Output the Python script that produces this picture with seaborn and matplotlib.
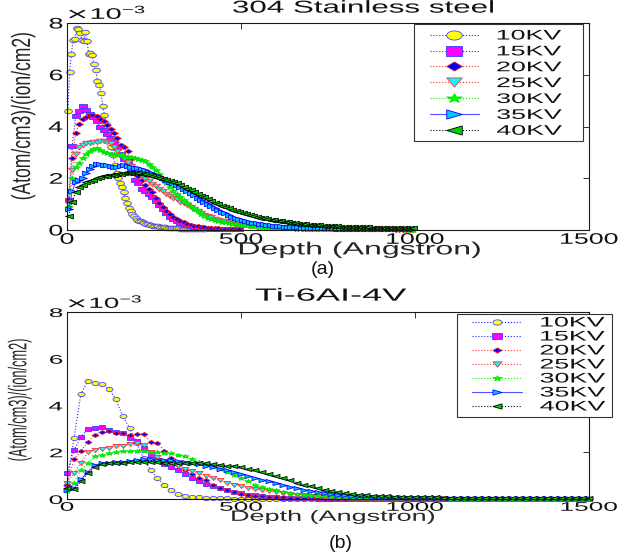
import numpy as np
import matplotlib
matplotlib.use("Agg")
import matplotlib.pyplot as plt
import seaborn as sns
from matplotlib.markers import MarkerStyle
from matplotlib.path import Path
from matplotlib.patches import Rectangle
from matplotlib.patheffects import AbstractPathEffect
from matplotlib.transforms import Affine2D
from matplotlib.ticker import ScalarFormatter

# ---------------------------------------------------------------------------
# Implanted-ion depth profiles, concentration in units of 1e-3 (Atom/cm3)/(ion/cm2)
# ---------------------------------------------------------------------------
ENERGY_LABELS = ["10KV", "15KV", "20KV", "25KV", "30KV", "35KV", "40KV"]
CONC_UNIT = 1e-3

X_TICKS = [0, 500, 1000, 1500]
Y_TICKS = [0, 2, 4, 6, 8]

# depth bins (Angstrom) of the profile files
ss_depth_10 = np.arange(2.5, 400, 5.0)     # 80 bins
ss_depth_15_20 = np.arange(5, 500, 10.0)   # 50 bins
ss_depth_25_40 = np.arange(5, 1000, 10.0)  # 100 bins
ti_depth = np.arange(0, 1501, 20.0)        # 76 bins

# 304 stainless steel
ss_10kv = [4.6, 6.1, 6.8, 7.35, 7.4, 7.8, 7.75, 7.6, 7.35, 7.3,
           7.65, 7.3, 6.8, 6.85, 6.75, 6.4, 6.2, 5.75, 5.6, 5.3,
           4.8, 4.45, 4.1, 3.8, 3.55, 3.2, 2.9, 2.5, 2.2, 2.0,
           1.8, 1.65, 1.45, 1.25, 1.05, 0.85, 0.72, 0.63, 0.56, 0.48,
           0.4, 0.36, 0.33, 0.3, 0.27, 0.25, 0.23, 0.21, 0.19, 0.17,
           0.16, 0.15, 0.14, 0.13, 0.12, 0.11, 0.1, 0.09, 0.09, 0.08,
           0.08, 0.07, 0.07, 0.06, 0.06, 0.05, 0.05, 0.05, 0.04, 0.04,
           0.04, 0.04, 0.03, 0.03, 0.03, 0.03, 0.02, 0.02, 0.02, 0.02]
ss_15kv = [1.16, 3.25, 4.4, 4.6, 4.8, 4.65, 4.5, 4.35, 4.2, 4.0,
           3.85, 3.7, 3.55, 3.35, 3.15, 2.95, 2.75, 2.55, 2.25, 1.95,
           1.8, 1.6, 1.5, 1.38, 1.27, 1.12, 0.95, 0.8, 0.65, 0.52,
           0.42, 0.33, 0.27, 0.22, 0.18, 0.14, 0.12, 0.1, 0.08, 0.07,
           0.06, 0.05, 0.05, 0.04, 0.04, 0.03, 0.03, 0.03, 0.02, 0.02]
ss_20kv = [1.2, 2.8, 3.75, 4.1, 4.3, 4.35, 4.45, 4.45, 4.4, 4.3,
           4.22, 4.05, 3.92, 3.75, 3.55, 3.3, 3.2, 3.05, 2.75, 2.4,
           2.1, 1.92, 1.72, 1.58, 1.45, 1.25, 1.05, 0.88, 0.72, 0.6,
           0.5, 0.42, 0.35, 0.29, 0.24, 0.2, 0.16, 0.14, 0.12, 0.1,
           0.09, 0.08, 0.07, 0.06, 0.05, 0.04, 0.04, 0.03, 0.03, 0.03]
ss_25kv = [1.0, 2.3, 2.95, 3.2, 3.28, 3.35, 3.38, 3.4, 3.42, 3.45,
           3.45, 3.42, 3.35, 3.2, 3.05, 2.9, 2.78, 2.62, 2.48, 2.35,
           2.22, 2.1, 1.98, 1.88, 1.78, 1.7, 1.6, 1.5, 1.4, 1.32,
           1.25, 1.18, 1.1, 1.03, 0.95, 0.87, 0.8, 0.72, 0.65, 0.59,
           0.54, 0.49, 0.44, 0.4, 0.36, 0.33, 0.3, 0.27, 0.24, 0.22,
           0.2, 0.18, 0.16, 0.15, 0.13, 0.12, 0.11, 0.1, 0.09, 0.08,
           0.08, 0.07, 0.07, 0.06, 0.06, 0.05, 0.05, 0.05, 0.04, 0.04,
           0.04, 0.04, 0.03, 0.03, 0.03, 0.03, 0.03, 0.03, 0.02, 0.02,
           0.02, 0.02, 0.02, 0.02, 0.02, 0.02, 0.02, 0.02, 0.02, 0.02,
           0.02, 0.02, 0.02, 0.02, 0.01, 0.01, 0.01, 0.01, 0.01, 0.01]
ss_30kv = [0.9, 2.0, 2.45, 2.6, 2.8, 2.95, 3.05, 3.12, 3.15, 3.1,
           3.02, 2.98, 2.95, 2.92, 2.9, 2.88, 2.85, 2.83, 2.82, 2.8,
           2.76, 2.72, 2.66, 2.56, 2.45, 2.3, 2.15, 1.98, 1.82, 1.66,
           1.5, 1.38, 1.26, 1.15, 1.04, 0.93, 0.82, 0.72, 0.63, 0.55,
           0.48, 0.43, 0.39, 0.35, 0.32, 0.29, 0.27, 0.25, 0.23, 0.21,
           0.19, 0.18, 0.16, 0.15, 0.14, 0.13, 0.12, 0.11, 0.1, 0.09,
           0.09, 0.08, 0.08, 0.07, 0.07, 0.06, 0.06, 0.06, 0.05, 0.05,
           0.05, 0.05, 0.04, 0.04, 0.04, 0.04, 0.04, 0.03, 0.03, 0.03,
           0.03, 0.03, 0.03, 0.03, 0.03, 0.03, 0.02, 0.02, 0.02, 0.02,
           0.02, 0.02, 0.02, 0.02, 0.02, 0.02, 0.02, 0.01, 0.01, 0.01]
ss_35kv = [0.8, 1.5, 1.85, 1.95, 2.0, 2.2, 2.35, 2.48, 2.55, 2.56,
           2.52, 2.5, 2.47, 2.45, 2.45, 2.47, 2.5, 2.48, 2.45, 2.4,
           2.38, 2.34, 2.3, 2.25, 2.2, 2.14, 2.07, 2.0, 1.93, 1.86,
           1.8, 1.74, 1.67, 1.58, 1.5, 1.42, 1.34, 1.25, 1.17, 1.09,
           1.02, 0.94, 0.86, 0.78, 0.71, 0.64, 0.57, 0.51, 0.46, 0.42,
           0.38, 0.34, 0.31, 0.28, 0.26, 0.24, 0.22, 0.2, 0.19, 0.17,
           0.15, 0.14, 0.13, 0.12, 0.11, 0.1, 0.1, 0.09, 0.09, 0.08,
           0.08, 0.07, 0.07, 0.07, 0.06, 0.06, 0.06, 0.05, 0.05, 0.05,
           0.05, 0.04, 0.04, 0.04, 0.04, 0.04, 0.03, 0.03, 0.03, 0.03,
           0.03, 0.03, 0.03, 0.03, 0.02, 0.02, 0.02, 0.02, 0.02, 0.02]
ss_40kv = [0.55, 1.1, 1.45, 1.65, 1.75, 1.85, 1.9, 1.95, 2.0, 2.05,
           2.08, 2.1, 2.12, 2.14, 2.16, 2.18, 2.2, 2.21, 2.22, 2.22,
           2.2, 2.18, 2.15, 2.12, 2.09, 2.05, 2.01, 1.97, 1.93, 1.89,
           1.85, 1.8, 1.74, 1.67, 1.6, 1.53, 1.46, 1.39, 1.32, 1.26,
           1.2, 1.13, 1.06, 1.0, 0.94, 0.89, 0.84, 0.79, 0.74, 0.7,
           0.66, 0.62, 0.58, 0.55, 0.51, 0.48, 0.45, 0.42, 0.4, 0.37,
           0.35, 0.33, 0.31, 0.29, 0.28, 0.26, 0.25, 0.23, 0.22, 0.21,
           0.2, 0.19, 0.18, 0.17, 0.16, 0.15, 0.15, 0.14, 0.13, 0.13,
           0.12, 0.12, 0.11, 0.11, 0.1, 0.1, 0.1, 0.09, 0.09, 0.09,
           0.08, 0.08, 0.08, 0.07, 0.07, 0.07, 0.07, 0.06, 0.06, 0.06]

# Ti-6Al-4V
ti_10kv = [0.6, 2.6, 4.5, 5.05, 4.97, 4.9, 4.72, 4.28, 3.55, 3.03,
           2.4, 1.74, 1.24, 0.88, 0.6, 0.38, 0.22, 0.13, 0.1, 0.07,
           0.05, 0.04, 0.03, 0.03, 0.02, 0.02, 0.02, 0.02, 0.01, 0.01,
           0.01, 0.01, 0.01, 0.01, 0.01, 0.01, 0.01, 0.01, 0.01, 0.01,
           0.01, 0.01, 0.01, 0.01, 0.01, 0.01, 0.01, 0.01, 0.01, 0.01,
           0.01, 0.01, 0.01, 0.01, 0.01, 0.01, 0.01, 0.01, 0.01, 0.01,
           0.01, 0.01, 0.01, 0.01, 0.01, 0.01, 0.01, 0.01, 0.01, 0.01,
           0.01, 0.01, 0.01, 0.01, 0.01, 0.01]
ti_15kv = [1.1, 2.1, 2.65, 3.0, 3.02, 3.08, 2.95, 2.88, 2.82, 2.6,
           2.5, 2.2, 1.9, 1.68, 1.5, 1.38, 1.24, 1.06, 0.9, 0.76,
           0.64, 0.55, 0.46, 0.38, 0.3, 0.24, 0.19, 0.15, 0.12, 0.1,
           0.08, 0.06, 0.05, 0.04, 0.03, 0.03, 0.02, 0.02, 0.02, 0.02,
           0.01, 0.01, 0.01, 0.01, 0.01, 0.01, 0.01, 0.01, 0.01, 0.01,
           0.01, 0.01, 0.01, 0.01, 0.01, 0.01, 0.01, 0.01, 0.01, 0.01,
           0.01, 0.01, 0.01, 0.01, 0.01, 0.01, 0.01, 0.01, 0.01, 0.01,
           0.01, 0.01, 0.01, 0.01, 0.01, 0.01]
ti_20kv = [0.6, 1.7, 2.05, 2.45, 2.75, 2.88, 2.9, 2.83, 2.82, 2.75,
           2.77, 2.8, 2.42, 2.4, 2.05, 1.75, 1.45, 1.25, 1.05, 0.9,
           0.8, 0.62, 0.48, 0.38, 0.3, 0.23, 0.18, 0.14, 0.12, 0.1,
           0.09, 0.07, 0.06, 0.05, 0.04, 0.03, 0.03, 0.02, 0.02, 0.02,
           0.02, 0.02, 0.02, 0.01, 0.01, 0.01, 0.01, 0.01, 0.01, 0.01,
           0.01, 0.01, 0.01, 0.01, 0.01, 0.01, 0.01, 0.01, 0.01, 0.01,
           0.01, 0.01, 0.01, 0.01, 0.01, 0.01, 0.01, 0.01, 0.01, 0.01,
           0.01, 0.01, 0.01, 0.01, 0.01, 0.01]
ti_25kv = [0.7, 1.1, 1.55, 2.0, 2.08, 2.15, 2.2, 2.25, 2.28, 2.35,
           2.38, 2.3, 2.0, 1.8, 1.62, 1.5, 1.42, 1.3, 1.2, 1.1,
           0.98, 0.9, 0.8, 0.7, 0.62, 0.55, 0.48, 0.42, 0.37, 0.33,
           0.29, 0.25, 0.22, 0.19, 0.16, 0.14, 0.12, 0.1, 0.09, 0.08,
           0.07, 0.06, 0.06, 0.05, 0.05, 0.04, 0.04, 0.04, 0.03, 0.03,
           0.03, 0.03, 0.03, 0.03, 0.03, 0.02, 0.02, 0.02, 0.02, 0.02,
           0.02, 0.02, 0.02, 0.02, 0.02, 0.02, 0.02, 0.02, 0.02, 0.02,
           0.02, 0.02, 0.01, 0.01, 0.01, 0.01]
ti_30kv = [0.35, 0.7, 1.25, 1.55, 1.82, 1.88, 1.95, 2.0, 2.05, 2.07,
           2.07, 2.05, 2.03, 2.0, 1.98, 1.95, 1.9, 1.82, 1.7, 1.6,
           1.5, 1.4, 1.28, 1.15, 1.03, 0.9, 0.75, 0.62, 0.52, 0.44,
           0.38, 0.32, 0.27, 0.22, 0.19, 0.16, 0.13, 0.11, 0.09, 0.08,
           0.07, 0.06, 0.06, 0.05, 0.05, 0.04, 0.04, 0.04, 0.03, 0.03,
           0.03, 0.03, 0.03, 0.03, 0.03, 0.02, 0.02, 0.02, 0.02, 0.02,
           0.02, 0.02, 0.02, 0.02, 0.02, 0.02, 0.02, 0.02, 0.02, 0.02,
           0.02, 0.02, 0.02, 0.01, 0.01, 0.01]
ti_35kv = [0.4, 0.45, 0.85, 1.15, 1.45, 1.52, 1.55, 1.58, 1.6, 1.62,
           1.68, 1.7, 1.7, 1.68, 1.67, 1.65, 1.63, 1.58, 1.53, 1.48,
           1.43, 1.37, 1.3, 1.22, 1.14, 1.06, 0.98, 0.9, 0.82, 0.75,
           0.67, 0.6, 0.53, 0.46, 0.4, 0.34, 0.29, 0.24, 0.2, 0.17,
           0.15, 0.13, 0.12, 0.11, 0.1, 0.09, 0.08, 0.07, 0.07, 0.06,
           0.06, 0.06, 0.05, 0.05, 0.05, 0.05, 0.04, 0.04, 0.04, 0.04,
           0.04, 0.04, 0.04, 0.03, 0.03, 0.03, 0.03, 0.03, 0.03, 0.03,
           0.03, 0.03, 0.03, 0.03, 0.03, 0.03]
ti_40kv = [0.45, 0.42, 0.75, 1.1, 1.38, 1.5, 1.55, 1.55, 1.55, 1.57,
           1.58, 1.6, 1.6, 1.58, 1.56, 1.54, 1.52, 1.52, 1.53, 1.52,
           1.52, 1.5, 1.46, 1.43, 1.42, 1.38, 1.3, 1.25, 1.15, 1.05,
           0.97, 0.9, 0.8, 0.7, 0.62, 0.55, 0.46, 0.4, 0.33, 0.28,
           0.24, 0.21, 0.18, 0.16, 0.14, 0.12, 0.11, 0.1, 0.09, 0.08,
           0.08, 0.07, 0.07, 0.07, 0.06, 0.06, 0.06, 0.06, 0.06, 0.05,
           0.05, 0.05, 0.05, 0.05, 0.05, 0.05, 0.05, 0.05, 0.05, 0.05,
           0.05, 0.05, 0.04, 0.04, 0.04, 0.04]

# marker, face, edge, line colour, line style for each energy
SERIES_STYLE = [
    ("o", "#ffff00", "#4646ff", "#2020ff", ":"),
    ("s", "#ff00ff", "#3c3cff", "#2020ff", ":"),
    ("D", "#0000ff", "#ff2020", "#ff3030", ":"),
    ("v", "#00ffff", "#ff3030", "#ff3030", ":"),
    ("*", "#00ff00", "#00e000", "#00ee00", ":"),
    (">", "#00c8ff", "#0000ff", "#5050ff", "-"),
    ("<", "#00d000", "#000000", "#000000", ":"),
]


class HStretch(AbstractPathEffect):
    """Draws text glyphs widened along the horizontal screen direction."""

    def __init__(self, sx, anchor="center"):
        super().__init__()
        self._sx = sx
        self._anchor = anchor

    def draw_path(self, renderer, gc, tpath, affine, rgbFace=None):
        if len(tpath.vertices) == 0:
            renderer.draw_path(gc, tpath, affine, rgbFace)
            return
        box = tpath.transformed(affine).get_extents()
        if self._anchor == "left":
            x0 = box.x0
        elif self._anchor == "right":
            x0 = box.x1
        else:
            x0 = 0.5 * (box.x0 + box.x1)
        widen = Affine2D().translate(-x0, 0).scale(self._sx, 1.0).translate(x0, 0)
        renderer.draw_path(gc, tpath, affine + widen, rgbFace)


def stretch(texts, sx, anchor="center"):
    for t in texts:
        t.set_path_effects([HStretch(sx, anchor)])


def wide_marker(code, sx=1.7):
    m = MarkerStyle(code)
    p = m.get_path().transformed(m.get_transform())
    return Path(p.vertices * np.array([sx, 1.0]), p.codes)


sns.set_theme(style="white")
plt.rcParams["font.family"] = ["Liberation Sans", "DejaVu Sans"]
plt.rcParams["axes.edgecolor"] = "#1a1a1a"
plt.rcParams["axes.linewidth"] = 0.8
plt.rcParams["text.color"] = "#111111"

W, H = 621, 555
fig = plt.figure(figsize=(W / 100, H / 100), dpi=100)
fig.patch.set_facecolor("white")


def fx(px):
    return px / W


def fy(py):
    return 1 - py / H


ax_ss = fig.add_axes([fx(67), fy(230), 522 / W, 207 / H])
ax_ti = fig.add_axes([fx(67), fy(499), 522 / W, 187 / H])


def draw_profiles(ax, depths, profiles, ms):
    for label, d, vals, st in zip(ENERGY_LABELS, depths, profiles, SERIES_STYLE):
        marker, face, edge, lcol, ls = st
        sns.lineplot(x=d, y=np.asarray(vals) * CONC_UNIT, ax=ax,
                     color=lcol, linestyle=ls, linewidth=0.8,
                     marker=wide_marker(marker), markersize=ms,
                     markerfacecolor=face, markeredgecolor=edge,
                     markeredgewidth=0.6, label=label, clip_on=False,
                     estimator=None, errorbar=None, sort=False)


draw_profiles(ax_ss,
              [ss_depth_10, ss_depth_15_20, ss_depth_15_20, ss_depth_25_40,
               ss_depth_25_40, ss_depth_25_40, ss_depth_25_40],
              [ss_10kv, ss_15kv, ss_20kv, ss_25kv, ss_30kv, ss_35kv, ss_40kv],
              ms=5.6)
draw_profiles(ax_ti, [ti_depth] * 7,
              [ti_10kv, ti_15kv, ti_20kv, ti_25kv, ti_30kv, ti_35kv, ti_40kv],
              ms=5.0)


def dress(ax, title, title_xy, title_fs, title_sx, tick_fs, tick_sx,
          xlab_xy, xlab_fs, xlab_sx, ylab_xy, ylab_fs, ylab_sx, off_fs):
    ax.set_xlim(0, 1500)
    ax.set_ylim(0, 8 * CONC_UNIT)
    ax.set_xticks(X_TICKS)
    ax.set_yticks(np.asarray(Y_TICKS) * CONC_UNIT)
    fmt = ScalarFormatter(useMathText=True)
    fmt.set_powerlimits((-3, -3))
    ax.yaxis.set_major_formatter(fmt)
    ax.tick_params(direction="in", length=4, width=0.6, top=True, right=True,
                   labelsize=tick_fs, pad=2, colors="#111111")
    ax.grid(False)
    for sp in ax.spines.values():
        sp.set_visible(True)
        sp.set_color("#1a1a1a")
    ax.set_title(title, fontsize=title_fs, x=title_xy[0], y=title_xy[1])
    stretch([ax.title], title_sx)
    ax.set_xlabel("Depth (Angstron)", fontsize=xlab_fs)
    ax.xaxis.set_label_coords(*xlab_xy)
    stretch([ax.xaxis.label], xlab_sx)
    ax.set_ylabel("(Atom/cm3)/(ion/cm2)", fontsize=ylab_fs)
    ax.yaxis.set_label_coords(*ylab_xy)
    stretch([ax.yaxis.label], ylab_sx)
    stretch(ax.get_xticklabels(), tick_sx, "center")
    stretch(ax.get_yticklabels(), tick_sx, "right")
    ax.yaxis.offsetText.set_fontsize(off_fs)
    stretch([ax.yaxis.offsetText], 1.9, "left")


dress(ax_ss, "304 Stainless steel", (0.568, 1.01), 12.4, 1.82, 11, 1.75,
      (0.561, -0.055), 12.7, 1.82, (-0.0695, 0.551), 12.6, 1.5, 11)
dress(ax_ti, "Ti-6AI-4V", (0.505, 1.016), 12.7, 2.05, 9, 2.1,
      (0.51, -0.058), 10.8, 1.8, (-0.0785, 0.529), 9.2, 2.0, 10.5)


def add_key(ax, frame_px, anchor_px, handlelength, labelspacing, markerscale):
    x0, y0, x1, y1 = frame_px
    ax.add_patch(Rectangle((fx(x0), fy(y1)), (x1 - x0) / W, (y1 - y0) / H,
                           transform=fig.transFigure, facecolor="white",
                           edgecolor="#333333", linewidth=0.8, zorder=4.5,
                           clip_on=False))
    handles = ax.get_lines()[:7]
    leg = ax.legend(handles, ENERGY_LABELS, loc="upper left",
                    bbox_to_anchor=(fx(anchor_px[0]), fy(anchor_px[1])),
                    bbox_transform=fig.transFigure, frameon=False,
                    borderpad=0, borderaxespad=0, fontsize=10,
                    handlelength=handlelength, handletextpad=1.3,
                    labelspacing=labelspacing, markerscale=markerscale,
                    numpoints=1)
    leg.set_zorder(5)
    stretch(leg.get_texts(), 1.93, "left")


add_key(ax_ss, (414, 24, 583, 141), (430, 28.5), 3.5, 0.135, 2.0)
add_key(ax_ti, (457, 314, 612, 417), (472, 315.5), 3.6, 0.0, 1.3)

fig.text(fx(323), fy(270), "(a)", ha="center", va="center", fontsize=14)
fig.text(fx(341), fy(543), "(b)", ha="center", va="center", fontsize=14)

fig.savefig("out.png", dpi=100, facecolor="white")
